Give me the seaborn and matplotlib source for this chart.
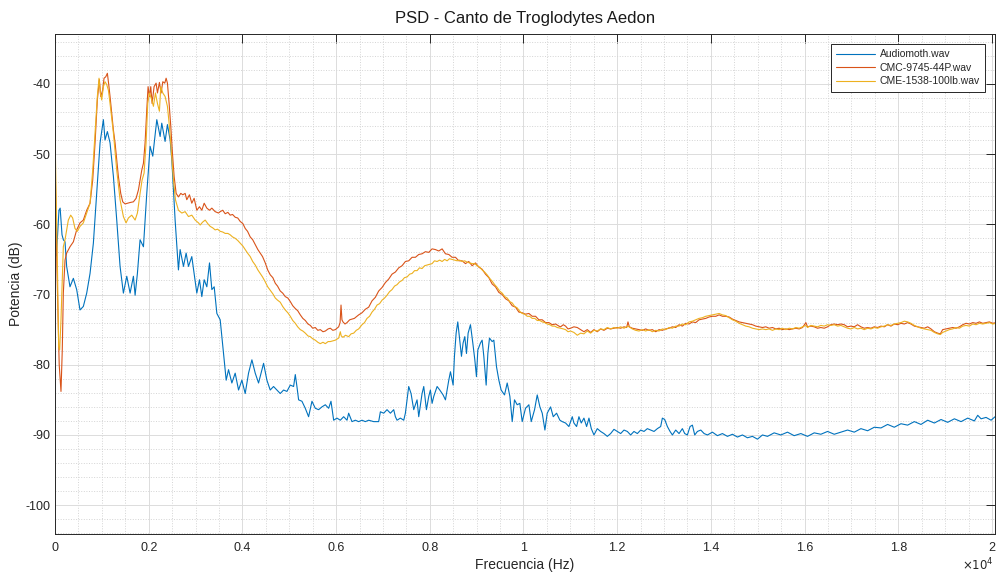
import pandas as pd
import seaborn as sns
import matplotlib.pyplot as plt
from matplotlib.ticker import MultipleLocator, FuncFormatter

# (frecuencia Hz, potencia dB)
audiomoth = [
    (0, -62.0), (30, -64.5), (85, -58.0), (110, -57.7), (150, -61.5), (178, -62.2), (214, -62.5),
    (249, -66.0), (320, -68.9), (392, -67.7), (463, -69.3), (534, -72.2), (605, -71.7), (677, -69.8),
    (748, -67.0), (819, -62.7), (890, -55.6), (962, -48.4), (1033, -45.1), (1068, -48.0), (1118, -46.8),
    (1175, -48.4), (1247, -53.2), (1318, -59.4), (1389, -66.0), (1460, -69.8), (1532, -67.4), (1603, -69.8),
    (1674, -67.4), (1710, -70.1), (1759, -67.0), (1816, -62.2), (1888, -63.2), (1959, -55.6), (2030, -48.9),
    (2087, -50.3), (2173, -45.1), (2244, -47.5), (2279, -45.6), (2350, -48.2), (2400, -45.8), (2458, -48.0),
    (2493, -50.8), (2564, -59.4), (2635, -66.5), (2671, -63.6), (2742, -66.0), (2799, -64.1), (2849, -66.0),
    (2920, -64.6), (2970, -67.0), (3027, -69.8), (3084, -67.9), (3134, -70.3), (3184, -67.9), (3241, -68.9),
    (3298, -65.5), (3348, -69.3), (3398, -68.9), (3455, -72.7), (3526, -73.6), (3597, -78.4), (3654, -82.2),
    (3704, -80.7), (3775, -82.6), (3846, -81.2), (3918, -83.6), (3989, -82.2), (4060, -84.1), (4131, -81.2),
    (4203, -79.3), (4274, -81.2), (4345, -82.6), (4452, -79.8), (4523, -82.2), (4594, -83.6), (4665, -83.1),
    (4737, -83.6), (4808, -84.1), (4879, -83.6), (4950, -83.8), (5022, -82.9), (5093, -83.1), (5129, -81.4),
    (5164, -83.1), (5200, -85.0), (5271, -85.2), (5342, -86.2), (5413, -87.4), (5485, -85.2), (5556, -86.2),
    (5627, -86.4), (5698, -86.0), (5770, -85.7), (5841, -86.2), (5891, -85.2), (5948, -87.9), (6019, -87.6),
    (6090, -87.9), (6161, -87.4), (6233, -87.9), (6268, -86.9), (6339, -88.1), (6411, -87.9), (6482, -88.1),
    (6553, -87.9), (6624, -88.1), (6696, -87.9), (6802, -88.1), (6909, -88.1), (6945, -86.7), (7016, -86.9),
    (7087, -86.4), (7159, -86.9), (7230, -86.4), (7265, -87.4), (7301, -87.9), (7372, -87.6), (7444, -87.9),
    (7479, -86.9), (7515, -85.0), (7550, -83.1), (7600, -84.1), (7657, -86.4), (7728, -85.0), (7764, -87.4),
    (7835, -84.1), (7871, -83.1), (7928, -86.4), (7978, -84.5), (8013, -83.6), (8049, -85.5), (8085, -84.5),
    (8120, -83.8), (8156, -83.1), (8213, -83.6), (8284, -84.3), (8334, -85.0), (8405, -82.2), (8441, -81.0),
    (8498, -82.9), (8526, -78.8), (8562, -75.5), (8597, -73.9), (8640, -76.5), (8676, -78.8), (8711, -76.9),
    (8747, -76.0), (8783, -78.4), (8818, -75.5), (8868, -74.3), (8918, -76.9), (8961, -79.3), (8996, -81.7),
    (9025, -77.9), (9082, -76.9), (9117, -76.5), (9153, -78.8), (9203, -82.9), (9239, -78.4), (9274, -76.2),
    (9331, -76.7), (9367, -76.5), (9424, -80.3), (9474, -82.2), (9523, -83.6), (9595, -84.3), (9652, -82.6),
    (9709, -84.5), (9759, -88.1), (9808, -85.0), (9865, -85.7), (9922, -85.5), (9972, -88.1), (10043, -86.2),
    (10115, -85.7), (10165, -88.1), (10236, -86.4), (10293, -84.3), (10350, -86.0), (10400, -86.9),
    (10457, -89.3), (10506, -86.9), (10578, -86.0), (10635, -87.4), (10706, -86.9), (10777, -87.9),
    (10827, -88.1), (10898, -88.3), (10969, -88.8), (11041, -87.4), (11076, -88.3), (11133, -88.8),
    (11183, -87.4), (11233, -88.3), (11290, -87.6), (11347, -88.8), (11397, -87.6), (11447, -89.1),
    (11504, -90.0), (11575, -89.1), (11646, -89.5), (11717, -89.8), (11789, -90.2), (11860, -89.8),
    (11931, -89.2), (12002, -89.5), (12074, -89.8), (12145, -89.3), (12216, -89.5), (12287, -90.0),
    (12358, -89.5), (12430, -89.8), (12501, -89.3), (12572, -89.5), (12643, -89.1), (12715, -89.3),
    (12786, -89.5), (12857, -89.1), (12928, -88.8), (12964, -87.6), (13014, -87.8), (13071, -88.8),
    (13128, -89.5), (13178, -90.0), (13249, -89.3), (13320, -89.8), (13391, -89.1), (13441, -89.8),
    (13498, -90.0), (13555, -88.8), (13605, -88.6), (13655, -90.0), (13712, -89.5), (13784, -89.3),
    (13855, -89.8), (13926, -90.0), (14032, -89.6), (14139, -90.1), (14246, -89.8), (14353, -90.2),
    (14460, -89.9), (14567, -90.3), (14673, -90.0), (14780, -90.4), (14887, -90.2), (14994, -90.6),
    (15101, -90.0), (15208, -90.2), (15350, -89.7), (15493, -90.0), (15635, -89.6), (15777, -90.1),
    (15920, -89.8), (16062, -90.2), (16205, -89.7), (16347, -89.9), (16490, -89.5), (16632, -89.9),
    (16775, -89.6), (16917, -89.3), (17060, -89.6), (17202, -89.1), (17345, -89.4), (17487, -88.9),
    (17630, -89.0), (17772, -88.5), (17914, -88.9), (18057, -88.4), (18199, -88.6), (18342, -88.1),
    (18484, -88.5), (18627, -87.9), (18769, -88.3), (18912, -87.8), (19054, -88.2), (19197, -87.7),
    (19339, -88.1), (19482, -87.6), (19624, -88.0), (19695, -87.2), (19767, -87.7), (19873, -87.5),
    (19980, -87.9), (20066, -87.4),
]

cmc_9745 = [
    (0, -50.0), (40, -66.0), (90, -80.0), (128, -83.8), (155, -78.0), (178, -69.8), (214, -65.1),
    (249, -64.1), (320, -63.2), (392, -62.5), (463, -60.8), (534, -59.8), (605, -59.4), (677, -58.0),
    (748, -57.0), (805, -53.7), (855, -48.4), (904, -42.3), (947, -39.4), (976, -41.8), (1018, -40.9),
    (1047, -39.2), (1083, -39.0), (1118, -38.5), (1147, -40.1), (1175, -41.8), (1211, -44.2), (1247, -46.6),
    (1282, -48.4), (1318, -50.8), (1353, -53.2), (1403, -55.6), (1446, -56.8), (1496, -57.1), (1546, -57.0),
    (1603, -56.9), (1674, -56.8), (1731, -56.3), (1781, -55.1), (1816, -53.7), (1852, -52.3), (1888, -51.3),
    (1923, -48.4), (1959, -43.7), (1987, -40.4), (2016, -41.8), (2044, -40.4), (2073, -42.8), (2115, -40.4),
    (2158, -39.9), (2187, -41.3), (2229, -39.8), (2265, -41.3), (2301, -39.7), (2343, -39.9), (2372, -39.2),
    (2400, -39.9), (2436, -42.8), (2472, -46.1), (2507, -49.9), (2543, -53.2), (2586, -55.6), (2635, -56.1),
    (2685, -55.6), (2728, -55.8), (2778, -55.6), (2813, -56.5), (2870, -55.8), (2920, -57.0), (2970, -56.3),
    (3027, -58.0), (3084, -57.5), (3134, -58.0), (3184, -57.0), (3241, -57.7), (3298, -58.0), (3348, -57.7),
    (3419, -58.2), (3490, -58.4), (3526, -58.2), (3580, -58.0), (3633, -58.5), (3690, -58.3), (3740, -58.7),
    (3790, -58.6), (3847, -59.0), (3900, -59.1), (3954, -59.6), (4010, -59.9), (4061, -60.6), (4110, -61.0),
    (4167, -61.8), (4220, -62.2), (4274, -62.9), (4330, -63.6), (4381, -64.1), (4430, -64.6), (4488, -65.5),
    (4540, -66.5), (4595, -67.2), (4650, -67.6), (4702, -68.4), (4750, -68.8), (4808, -69.5), (4860, -69.8),
    (4915, -70.3), (4970, -70.5), (5022, -71.0), (5075, -71.6), (5129, -72.0), (5180, -72.3), (5236, -72.9),
    (5290, -73.4), (5343, -73.7), (5400, -74.2), (5450, -74.4), (5500, -74.8), (5556, -74.7), (5610, -75.1),
    (5663, -75.0), (5720, -75.3), (5770, -75.2), (5830, -74.9), (5877, -74.8), (5930, -75.1), (5984, -75.0),
    (6055, -74.6), (6085, -74.0), (6105, -71.5), (6125, -73.6), (6147, -73.9), (6190, -74.2), (6233, -74.0),
    (6290, -73.6), (6340, -73.5), (6390, -73.4), (6447, -73.1), (6482, -72.9), (6553, -72.6), (6624, -72.1),
    (6696, -71.8), (6767, -70.9), (6838, -70.4), (6909, -69.5), (6981, -69.0), (7052, -68.3), (7123, -67.8),
    (7194, -67.1), (7265, -66.8), (7337, -66.2), (7408, -65.9), (7479, -65.3), (7550, -65.2), (7622, -64.7),
    (7693, -64.7), (7764, -64.3), (7835, -64.2), (7906, -63.9), (7978, -64.0), (8049, -63.5), (8120, -63.6),
    (8191, -63.8), (8263, -63.5), (8334, -64.2), (8405, -64.3), (8476, -64.7), (8548, -64.7), (8619, -65.2),
    (8690, -65.2), (8761, -65.6), (8832, -65.3), (8904, -65.9), (8975, -65.5), (9046, -66.1), (9117, -66.4),
    (9189, -67.1), (9260, -67.6), (9331, -68.5), (9402, -68.9), (9474, -69.7), (9545, -70.0), (9616, -70.6),
    (9687, -70.9), (9759, -71.6), (9830, -71.8), (9901, -72.5), (9972, -72.6), (10043, -72.8), (10115, -72.7),
    (10186, -73.1), (10257, -73.1), (10328, -73.6), (10400, -73.6), (10471, -74.0), (10542, -74.0),
    (10613, -74.3), (10685, -74.2), (10756, -74.5), (10791, -74.6), (10850, -74.3), (10898, -74.5),
    (10950, -74.9), (11005, -74.8), (11076, -74.6), (11148, -74.7), (11219, -75.0), (11290, -75.3),
    (11361, -75.0), (11432, -75.4), (11504, -75.0), (11575, -75.3), (11646, -74.9), (11717, -75.1),
    (11789, -74.8), (11860, -74.9), (11931, -74.8), (12002, -74.7), (12074, -74.8), (12145, -74.6),
    (12202, -74.7), (12230, -73.9), (12259, -74.6), (12323, -74.8), (12394, -74.9), (12465, -75.0),
    (12537, -75.1), (12608, -74.9), (12679, -75.1), (12750, -75.0), (12822, -75.3), (12893, -75.0),
    (12964, -75.1), (13035, -74.9), (13107, -74.8), (13178, -74.6), (13249, -74.7), (13320, -74.3),
    (13391, -74.5), (13462, -74.1), (13534, -74.2), (13605, -73.9), (13676, -74.0), (13747, -73.6),
    (13819, -73.5), (13890, -73.4), (13961, -73.2), (14032, -73.1), (14104, -73.1), (14175, -72.9),
    (14246, -73.1), (14317, -73.1), (14388, -73.2), (14460, -73.5), (14531, -73.7), (14602, -73.9),
    (14673, -74.0), (14745, -74.1), (14816, -74.2), (14887, -74.3), (14958, -74.5), (15030, -74.6),
    (15101, -74.7), (15172, -74.6), (15243, -74.8), (15314, -74.7), (15386, -74.9), (15457, -74.8),
    (15528, -75.0), (15599, -74.9), (15671, -75.0), (15742, -74.9), (15813, -74.8), (15884, -74.9),
    (15956, -74.7), (16027, -74.0), (16062, -74.6), (16134, -74.5), (16205, -74.6), (16276, -74.8),
    (16347, -74.7), (16419, -74.8), (16490, -74.6), (16561, -74.3), (16632, -74.2), (16704, -74.3),
    (16775, -74.2), (16846, -74.3), (16917, -74.6), (16988, -74.5), (17060, -74.6), (17131, -74.3),
    (17202, -74.6), (17273, -74.8), (17345, -74.7), (17416, -74.8), (17487, -74.6), (17558, -74.7),
    (17630, -74.5), (17701, -74.6), (17772, -74.3), (17843, -74.5), (17914, -74.2), (17986, -74.3),
    (18057, -74.1), (18128, -74.2), (18199, -74.0), (18270, -74.2), (18342, -74.5), (18413, -74.6),
    (18484, -74.7), (18555, -74.8), (18627, -74.6), (18698, -74.9), (18769, -75.3), (18840, -75.5),
    (18897, -75.6), (18947, -75.0), (19019, -74.9), (19090, -74.8), (19161, -74.7), (19232, -74.8),
    (19304, -74.6), (19375, -74.3), (19446, -74.1), (19517, -74.2), (19589, -74.0), (19660, -74.1),
    (19731, -73.9), (19802, -74.1), (19873, -74.0), (19944, -73.9), (20016, -74.1), (20087, -74.0),
]

cme_1538 = [
    (0, -47.0), (50, -65.1), (78, -77.4), (100, -77.9), (128, -73.6), (157, -67.4), (178, -63.2),
    (214, -62.2), (249, -60.8), (285, -59.4), (335, -58.7), (377, -59.1), (427, -60.6), (477, -61.0),
    (534, -60.3), (605, -59.8), (677, -58.4), (748, -57.0), (805, -52.3), (855, -47.0), (904, -41.8),
    (940, -39.2), (969, -41.3), (997, -42.3), (1033, -40.4), (1068, -39.7), (1104, -40.1), (1140, -40.9),
    (1175, -42.8), (1247, -47.0), (1318, -52.3), (1389, -56.5), (1460, -58.9), (1517, -59.8), (1567, -59.1),
    (1638, -58.7), (1710, -59.4), (1759, -58.4), (1816, -55.6), (1859, -53.7), (1902, -52.7), (1944, -48.4),
    (1980, -42.8), (2016, -41.3), (2066, -42.3), (2101, -43.2), (2144, -41.3), (2187, -42.8), (2229, -43.9),
    (2258, -40.4), (2301, -41.3), (2350, -41.8), (2400, -43.2), (2443, -46.1), (2486, -49.9), (2529, -53.7),
    (2571, -56.5), (2635, -58.0), (2707, -58.4), (2778, -58.2), (2849, -58.9), (2920, -58.7), (2992, -59.4),
    (3063, -59.8), (3099, -60.1), (3150, -59.7), (3206, -59.4), (3260, -59.9), (3313, -60.3), (3365, -60.5),
    (3419, -60.8), (3470, -60.7), (3526, -61.0), (3580, -61.1), (3633, -61.3), (3690, -61.3), (3740, -61.5),
    (3790, -61.8), (3847, -62.0), (3900, -62.3), (3954, -62.7), (4010, -63.1), (4061, -63.6), (4110, -64.1),
    (4167, -64.6), (4220, -65.3), (4274, -65.8), (4330, -66.5), (4381, -67.0), (4430, -67.5), (4488, -68.2),
    (4540, -68.9), (4595, -69.4), (4650, -69.9), (4702, -70.5), (4750, -70.8), (4808, -71.1), (4860, -71.7),
    (4915, -72.2), (4970, -72.6), (5022, -73.1), (5075, -73.7), (5129, -74.1), (5180, -74.6), (5236, -75.0),
    (5290, -75.2), (5343, -75.5), (5400, -75.9), (5450, -76.0), (5500, -76.3), (5556, -76.5), (5610, -76.8),
    (5663, -77.0), (5720, -76.8), (5770, -77.0), (5830, -76.7), (5877, -76.7), (5930, -76.6), (5984, -76.5),
    (6055, -76.2), (6090, -75.3), (6110, -75.9), (6147, -76.1), (6200, -75.8), (6269, -76.0), (6320, -75.6),
    (6376, -75.5), (6430, -75.1), (6482, -74.9), (6553, -74.3), (6606, -74.0), (6660, -73.4), (6714, -73.1),
    (6767, -72.5), (6820, -72.1), (6874, -71.5), (6928, -71.3), (6981, -70.8), (7035, -70.5), (7087, -70.1),
    (7140, -69.6), (7194, -69.3), (7248, -68.8), (7301, -68.6), (7355, -68.2), (7408, -68.0), (7460, -67.6),
    (7515, -67.5), (7570, -67.1), (7622, -67.0), (7675, -66.6), (7728, -66.6), (7780, -66.2), (7835, -66.3),
    (7890, -65.9), (7942, -65.8), (7995, -65.7), (8049, -65.6), (8100, -65.2), (8156, -65.3), (8210, -65.1),
    (8263, -65.3), (8316, -65.0), (8370, -65.2), (8420, -64.9), (8476, -65.0), (8530, -65.1), (8583, -65.2),
    (8636, -65.1), (8690, -65.3), (8745, -65.2), (8797, -65.4), (8850, -65.5), (8904, -65.6), (8958, -65.6),
    (9011, -65.9), (9064, -66.1), (9117, -66.5), (9170, -66.8), (9224, -67.2), (9278, -67.7), (9331, -68.1),
    (9385, -68.6), (9438, -69.0), (9490, -69.5), (9545, -69.8), (9600, -70.3), (9652, -70.5), (9705, -71.0),
    (9759, -71.2), (9812, -71.7), (9865, -71.9), (9920, -72.4), (9972, -72.7), (10025, -72.8), (10079, -73.1),
    (10130, -73.1), (10186, -73.4), (10240, -73.4), (10293, -73.7), (10346, -73.7), (10400, -73.9),
    (10453, -74.0), (10506, -74.2), (10560, -74.3), (10613, -74.5), (10666, -74.5), (10720, -74.7),
    (10791, -74.8), (10850, -74.9), (10898, -75.0), (10950, -75.3), (11005, -75.2), (11076, -75.4),
    (11148, -75.8), (11219, -75.5), (11290, -75.6), (11361, -75.2), (11432, -75.5), (11504, -75.1),
    (11575, -75.2), (11646, -74.9), (11717, -75.0), (11789, -74.7), (11860, -74.9), (11931, -74.7),
    (12002, -74.8), (12074, -74.6), (12145, -74.8), (12230, -74.5), (12323, -74.9), (12394, -75.1),
    (12465, -75.2), (12537, -75.0), (12608, -75.2), (12679, -75.0), (12750, -75.3), (12822, -75.1),
    (12893, -75.2), (12964, -74.9), (13035, -75.0), (13107, -74.7), (13178, -74.8), (13249, -74.5),
    (13320, -74.5), (13391, -74.2), (13462, -74.3), (13534, -73.9), (13605, -73.8), (13676, -73.6),
    (13747, -73.4), (13819, -73.3), (13890, -73.1), (13961, -73.0), (14032, -72.9), (14104, -72.8),
    (14175, -72.7), (14246, -72.9), (14317, -73.0), (14388, -73.3), (14460, -73.6), (14531, -73.8),
    (14602, -74.1), (14673, -74.3), (14745, -74.5), (14816, -74.6), (14887, -74.8), (14958, -74.9),
    (15030, -75.0), (15101, -74.9), (15172, -75.0), (15243, -74.9), (15314, -75.1), (15386, -74.9),
    (15457, -75.0), (15528, -74.8), (15599, -75.0), (15671, -74.8), (15742, -74.9), (15813, -74.7),
    (15884, -74.8), (15956, -74.6), (16027, -74.4), (16062, -74.7), (16134, -74.4), (16205, -74.5),
    (16276, -74.6), (16347, -74.4), (16419, -74.5), (16490, -74.3), (16561, -74.4), (16632, -74.3),
    (16704, -74.5), (16775, -74.4), (16846, -74.6), (16917, -74.8), (16988, -74.9), (17060, -74.7),
    (17131, -74.9), (17202, -74.8), (17273, -75.0), (17345, -74.8), (17416, -74.9), (17487, -74.7),
    (17558, -74.8), (17630, -74.6), (17701, -74.5), (17772, -74.3), (17843, -74.4), (17914, -74.2),
    (17986, -74.1), (18057, -74.0), (18128, -73.8), (18199, -73.9), (18270, -74.1), (18342, -74.4),
    (18413, -74.6), (18484, -74.8), (18555, -74.9), (18627, -75.0), (18698, -75.1), (18769, -75.4),
    (18840, -75.6), (18897, -75.7), (18947, -75.4), (19019, -75.2), (19090, -75.0), (19161, -74.9),
    (19232, -74.7), (19304, -74.8), (19375, -74.5), (19446, -74.4), (19517, -74.5), (19589, -74.2),
    (19660, -74.3), (19731, -74.1), (19802, -74.2), (19873, -74.1), (19944, -74.0), (20016, -74.2),
    (20087, -74.1),
]

archivos = ["Audiomoth.wav", "CMC-9745-44P.wav", "CME-1538-100lb.wav"]
colores = ["#0072BD", "#D95319", "#EDB120"]

partes = []
for nombre, puntos in zip(archivos, [audiomoth, cmc_9745, cme_1538]):
    d = pd.DataFrame(puntos, columns=["freq", "db"])
    d["archivo"] = nombre
    partes.append(d)
df = pd.concat(partes, ignore_index=True)

sns.set_style("white")
plt.rcParams['font.family'] = ['Liberation Sans', 'DejaVu Sans']
plt.rcParams['axes.unicode_minus'] = False

fig = plt.figure(figsize=(9.98, 5.73), dpi=100)
ax = fig.add_axes([0.0551, 0.0681, 0.9419, 0.8726])

sns.lineplot(data=df, x="freq", y="db", hue="archivo", palette=colores,
             estimator=None, sort=False, linewidth=0.8, ax=ax)

ax.set_xlim(0, 20064)
ax.set_ylim(-104.1, -32.9)

ax.xaxis.set_major_locator(MultipleLocator(2000))
ax.xaxis.set_minor_locator(MultipleLocator(500))
ax.yaxis.set_major_locator(MultipleLocator(10))
ax.yaxis.set_minor_locator(MultipleLocator(2))
ax.xaxis.set_major_formatter(FuncFormatter(lambda v, _: '%g' % round(v / 1e4, 2)))

ax.grid(which='major', color='#dcdcdc', linewidth=0.7)
ax.grid(which='minor', color='#d4d4d4', linestyle=':', linewidth=0.7)
ax.set_axisbelow(True)

ax.tick_params(which='major', direction='in', length=6.5, width=0.7,
               top=True, right=True, colors='#262626', labelsize=9)
ax.tick_params(axis='x', which='major', pad=6)
ax.tick_params(axis='y', which='major', pad=3.5)
ax.tick_params(which='minor', length=0)
for s in ax.spines.values():
    s.set_color('#262626')
    s.set_linewidth(0.7)

ax.set_title("PSD - Canto de Troglodytes Aedon", fontsize=12, color='#1a1a1a', pad=8)
ax.set_xlabel("Frecuencia (Hz)", fontsize=10, color='#262626', labelpad=3)
ax.set_ylabel("Potencia (dB)", fontsize=10, color='#262626', labelpad=1.5)
ax.text(0.999, -0.062, r'$\times10^{4}$', transform=ax.transAxes, ha='right', va='center',
        fontsize=8.5, color='#262626')

handles, labels = ax.get_legend_handles_labels()
ax.legend(handles, labels, loc='upper right', bbox_to_anchor=(0.9894, 0.98), borderaxespad=0,
          fontsize=7.5, handlelength=3.8, handletextpad=0.4, labelspacing=0.35, borderpad=0.5,
          frameon=True, fancybox=False, framealpha=1, edgecolor='#262626')
ax.get_legend().get_frame().set_linewidth(0.7)

plt.savefig("out.png", dpi=100, facecolor='white')
